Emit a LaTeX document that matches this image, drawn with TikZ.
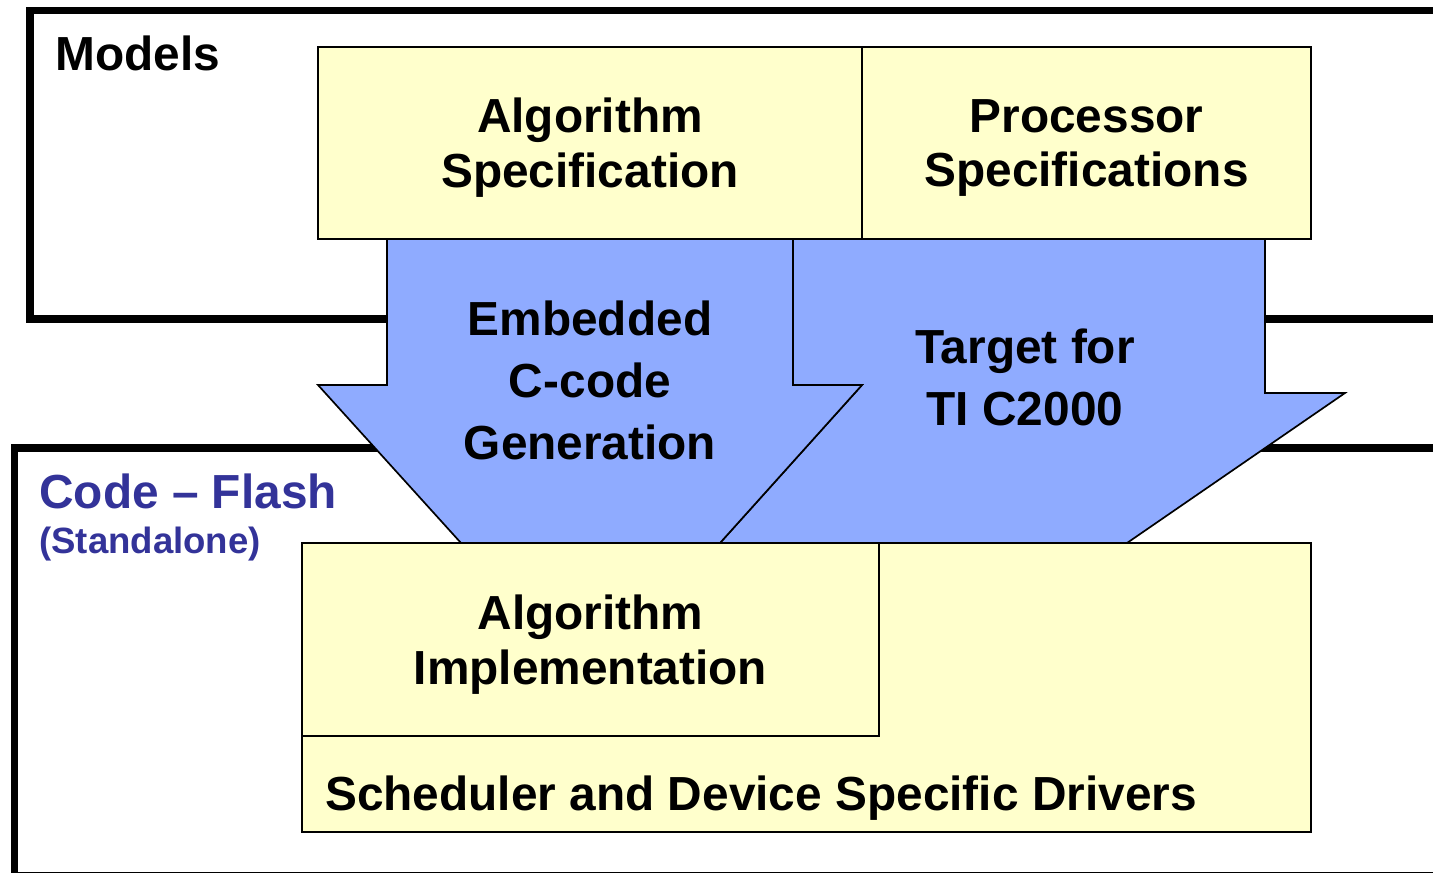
\documentclass[tikz,border=0pt]{standalone}
\usepackage{fontspec}
\setmainfont{Liberation Sans}
\usepackage{xcolor}
\usepackage{tikz}
\usetikzlibrary{positioning}
\definecolor{specyellow}{HTML}{FFFFCC}
\definecolor{flowblue}{HTML}{8FABFF}
\definecolor{flashblue}{HTML}{333399}

\begin{document}
\begin{tikzpicture}[
  x=0.025cm, y=-0.025cm,
  frame/.style={draw, line width=5pt},
  box/.style={draw, fill=specyellow, line width=1pt, inner sep=0pt, align=center,
              text depth=0pt, font=\fontsize{34}{39}\selectfont\bfseries},
  flow/.style={draw, fill=flowblue, line width=1.2pt, line join=miter},
  flowtext/.style={align=center, inner sep=0pt, text depth=0pt,
                   font=\fontsize{34}{44}\selectfont\bfseries},
  title/.style={anchor=base west, inner sep=0pt, font=\fontsize{34}{40}\selectfont\bfseries}
]
  \useasboundingbox (0,0) rectangle (1433,873);
  \clip (0,0) rectangle (1433,873);

  % outer frames
  \draw[frame] (30,10.5) rectangle (1500,319);
  \draw[frame] (14.5,448) rectangle (1500,876);

  \node[title] (models) at (55,71) {Models};
  \node[title, text=flashblue] (flash) at (39,508) {Code -- Flash};
  \node[title, text=flashblue, font=\fontsize{26}{30}\selectfont\bfseries] (standalone) at (39,553) {(Standalone)};

  % specifications
  \node[box, minimum width=13.6cm, minimum height=4.8cm] (algspec) at (590,143)
    {Algorithm\\Specification};
  \node[box, minimum width=11.225cm, minimum height=4.8cm] (procspec) at (1086.5,143)
    {Processor\\Specifications};

  % big arrows
  \draw[flow] (793,239) -- (1265,239) -- (1265,393) -- (1345,393) -- (1127,543)
    -- (720,543) -- (862,385) -- (793,385) -- cycle;
  \draw[flow] (387,239) -- (793,239) -- (793,385) -- (862,385) -- (720,543)
    -- (461,543) -- (318,385) -- (387,385) -- cycle;
  \node[flowtext] (gen) at (590,380.5) {Embedded\\C-code\\Generation};
  \node[flowtext] (target) at (1025,377) {Target for\\TI C2000};

  % generated code
  \node[box, minimum width=25.225cm, minimum height=7.225cm] (drv) at (806.5,687.5) {};
  \node[box, minimum width=14.425cm, minimum height=4.825cm] (algimpl) at (590.5,639.5)
    {Algorithm\\Implementation};
  \node[title] (drvtext) at (325,810) {Scheduler and Device Specific Drivers};
\end{tikzpicture}
\end{document}
